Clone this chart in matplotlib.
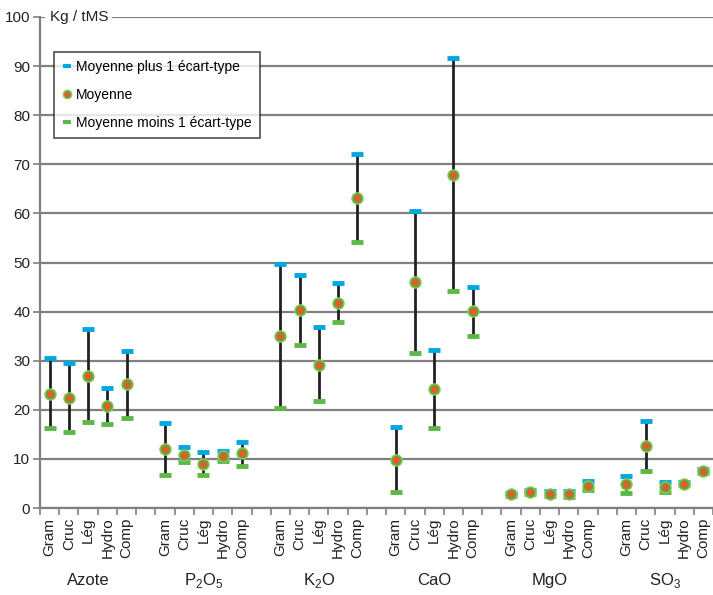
import matplotlib
matplotlib.use("Agg")
import matplotlib.pyplot as plt
from matplotlib.lines import Line2D
from matplotlib.legend_handler import HandlerTuple
import numpy as np

# Police proche de l'original (Helvetica condensée non disponible)
plt.rcParams['font.family'] = ['Liberation Sans', 'DejaVu Sans']
plt.rcParams['mathtext.fontset'] = 'custom'
plt.rcParams['mathtext.rm'] = 'Liberation Sans'

# Données (Kg / tMS)
groupes = ['Azote', r'P$_2$O$_5$', r'K$_2$O', 'CaO', 'MgO', r'SO$_3$']
categories = ['Gram', 'Cruc', 'Lég', 'Hydro', 'Comp']

moyenne = [
    [23.3, 22.4, 26.9, 20.8, 25.2],   # Azote
    [12.0, 10.8, 9.0, 10.6, 11.1],    # P2O5
    [35.0, 40.3, 29.2, 41.8, 63.1],   # K2O
    [9.8, 46.0, 24.2, 67.8, 40.1],    # CaO
    [2.8, 3.2, 2.9, 2.8, 4.5],        # MgO
    [4.9, 12.6, 4.2, 4.9, 7.5],       # SO3
]
plus_ecart = [
    [30.5, 29.6, 36.4, 24.5, 32.0],
    [17.3, 12.4, 11.4, 11.6, 13.5],
    [49.7, 47.5, 36.9, 45.8, 72.0],
    [16.4, 60.5, 32.2, 91.6, 45.1],
    [3.1, 3.6, 3.4, 3.5, 5.6],
    [6.6, 17.8, 5.2, 5.2, 7.9],
]
moins_ecart = [
    [16.3, 15.4, 17.5, 17.1, 18.4],
    [6.7, 9.3, 6.8, 9.5, 8.6],
    [20.3, 33.1, 21.7, 37.8, 54.2],
    [3.2, 31.5, 16.2, 44.1, 35.1],
    [2.4, 2.8, 2.4, 2.2, 3.6],
    [3.1, 7.5, 3.2, 4.6, 7.1],
]

CYAN = '#00a8e1'
VERT = '#5cb947'
VERT_FONCE = '#6a9f3a'
ORANGE = '#f0562a'
GRIS = '#808080'

# positions : 5 catégories par groupe + une case vide entre groupes
x = []
labels = []
for g in range(len(groupes)):
    for c in range(len(categories)):
        x.append(g * 6 + c)
        labels.append(categories[c])
x = np.array(x)
moy = np.array(moyenne).ravel()
haut = np.array(plus_ecart).ravel()
bas = np.array(moins_ecart).ravel()

fig = plt.figure(figsize=(7.13, 5.95), dpi=100)
ax = fig.add_axes([40 / 713, 1 - 508 / 595, 673 / 713, 491 / 595])

ax.set_ylim(0, 100)
ax.set_xlim(-0.5, 34.17)

# grille
ax.set_yticks(np.arange(0, 101, 10))
ax.yaxis.grid(True, color=GRIS, linewidth=1.6, zorder=0)
ax.set_axisbelow(True)
for s in ['top', 'right']:
    ax.spines[s].set_visible(False)
for s in ['left', 'bottom']:
    ax.spines[s].set_color(GRIS)
    ax.spines[s].set_linewidth(1.6)
ax.tick_params(axis='y', colors=GRIS, length=5, width=1.2, labelsize=11,
               labelcolor='#222222', pad=2)

# axe x : marques aux limites de cases, étiquettes au centre
ax.set_xticks(x)
ax.set_xticklabels(labels, rotation=90, fontsize=11, color='#222222')
ax.tick_params(axis='x', which='major', length=0, pad=7)
ax.set_xticks(np.arange(-0.5, 34.6, 1), minor=True)
ax.tick_params(axis='x', which='minor', length=5, width=1.2, color=GRIS)

# barres d'écart-type
ax.vlines(x, bas, haut, color='#222222', linewidth=2, zorder=3)
ax.plot(x, haut, ls='none', marker='_', ms=8, mew=3.5, color=CYAN, zorder=4)
ax.plot(x, bas, ls='none', marker='_', ms=8, mew=3.5, color=VERT, zorder=4)
ax.plot(x, moy, ls='none', marker='o', ms=8, mfc=VERT_FONCE, mec='#8cc95a',
        mew=1, zorder=5)
ax.plot(x, moy, ls='none', marker='o', ms=3.5, mfc=ORANGE, mec=ORANGE, zorder=6)

# noms des groupes
for g, nom in enumerate(groupes):
    ax.text(g * 6 + 2, -0.147, nom, transform=ax.get_xaxis_transform(),
            ha='center', va='center', fontsize=12, color='#222222')

# titre d'axe
ax.text(0.0, 100, 'Kg / tMS', ha='left', va='center', fontsize=11,
        color='#222222', zorder=7,
        bbox=dict(facecolor='white', edgecolor='none', pad=3))

# légende
h_plus = Line2D([], [], ls='none', marker='_', ms=6, mew=3, color=CYAN)
h_moy = (Line2D([], [], ls='none', marker='o', ms=6, mfc=VERT_FONCE, mec='#8cc95a'),
         Line2D([], [], ls='none', marker='o', ms=2.5, mfc=ORANGE, mec=ORANGE))
h_moins = Line2D([], [], ls='none', marker='_', ms=6, mew=3, color=VERT)
leg = ax.legend([h_plus, h_moy, h_moins],
                ['Moyenne plus 1 écart-type', 'Moyenne', 'Moyenne moins 1 écart-type'],
                handler_map={tuple: HandlerTuple(ndivide=1)},
                loc='upper left', bbox_to_anchor=(14 / 673, 1 - 35 / 491),
                fontsize=10, frameon=True, fancybox=False, handlelength=0.6,
                handletextpad=0.4, borderpad=0.6, labelspacing=1.0,
                borderaxespad=0)
leg.get_frame().set_edgecolor('#222222')
leg.get_frame().set_linewidth(1.2)

fig.savefig('out.png', dpi=100)
